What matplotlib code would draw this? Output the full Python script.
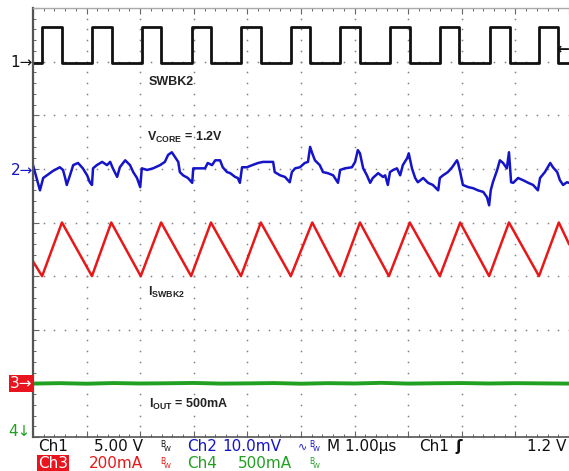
import matplotlib
matplotlib.use("Agg")
import matplotlib.pyplot as plt
import numpy as np

plt.rcParams['mathtext.fontset'] = 'custom'
plt.rcParams['mathtext.rm'] = 'Liberation Sans:bold'
plt.rcParams['mathtext.bf'] = 'Liberation Sans:bold'

W, H = 569, 471
C_BLK = "#111111"; C_BLU = "#1414c8"; C_RED = "#e81818"; C_GRN = "#22a022"

# --- channel settings (div offset of ground, units per div) ---
CH1_OFS, CH1_SCALE = 3.0, 5.0      # V/div
CH2_OFS, CH2_SCALE = 1.0, 10.0     # mV/div
CH3_OFS, CH3_SCALE = -3.0, 200.0   # mA/div
CH4_OFS, CH4_SCALE = -4.0, 500.0   # mA/div

# --- Ch1 SWBK2 switch node (edge times in us, levels in V) ---
sw_rise = [0.17, 1.10, 2.03, 2.97, 3.88, 4.81, 5.73, 6.66, 7.59, 8.53, 9.44]
sw_fall = [0.54, 1.47, 2.39, 3.32, 4.25, 5.17, 6.10, 7.03, 7.95, 8.90, 9.79]
sw_low, sw_high = -0.1, 3.25

# --- Ch2 VCORE ripple (us, mV) ---
vc_t = [0.00, 0.13, 0.19, 0.26, 0.37, 0.50, 0.56, 0.60, 0.63, 0.69, 0.75, 0.84, 0.93,
        1.01, 1.06, 1.10, 1.12, 1.19, 1.29, 1.38, 1.44, 1.49, 1.57, 1.62, 1.72, 1.81,
        1.87, 1.94, 2.00, 2.03, 2.13, 2.24, 2.37, 2.46, 2.52, 2.59, 2.65, 2.71, 2.74,
        2.80, 2.89, 2.97, 2.99, 3.12, 3.21, 3.26, 3.34, 3.40, 3.49, 3.54, 3.62, 3.68,
        3.77, 3.82, 3.86, 3.90, 3.99, 4.09, 4.20, 4.29, 4.42, 4.48, 4.51, 4.61, 4.70,
        4.79, 4.83, 4.89, 4.98, 5.07, 5.13, 5.17, 5.21, 5.26, 5.35, 5.41, 5.50, 5.60,
        5.69, 5.73, 5.82, 5.95, 6.01, 6.06, 6.10, 6.16, 6.23, 6.29, 6.34, 6.44, 6.53,
        6.57, 6.62, 6.66, 6.72, 6.79, 6.85, 6.90, 6.98, 7.01, 7.07, 7.13, 7.18, 7.28,
        7.37, 7.46, 7.56, 7.59, 7.65, 7.74, 7.82, 7.91, 7.93, 7.97, 8.02, 8.12, 8.21,
        8.30, 8.40, 8.47, 8.51, 8.54, 8.58, 8.66, 8.71, 8.77, 8.84, 8.88, 8.92, 8.96,
        9.05, 9.14, 9.24, 9.33, 9.42, 9.46, 9.55, 9.65, 9.70, 9.78, 9.83, 9.89, 9.96, 10.00]
vc_mv = [0.7, -4.0, -1.7, -1.2, -0.4, 0.3, -0.2, -1.7, -3.0, -1.2, 0.7, 1.1, 0.1,
         -1.2, -2.5, -3.0, 0.1, 0.7, 1.3, 0.7, 1.3, 0.1, -1.5, 0.3, 1.6, 0.7,
         -0.6, -1.7, -3.4, 0.1, -0.2, 0.1, 0.7, 1.3, 2.6, 3.1, 2.2, 1.3, -0.6,
         -1.2, -1.7, -2.6, 0.1, 0.1, 0.1, 1.1, 0.7, 1.6, 1.6, 0.3, -0.6, -0.8,
         -1.5, -1.7, -2.6, 0.3, 0.3, 0.7, 1.1, 1.3, 1.3, 1.3, -0.6, -1.2, -1.5,
         -2.5, -0.6, 0.1, 0.3, 1.1, 1.3, 4.1, 2.9, 1.6, 0.7, -0.6, -0.8, -1.2,
         -2.6, -0.2, 0.1, 0.3, 1.3, 3.5, 2.9, 0.1, -1.2, -2.6, -1.7, -0.8, -1.5,
         -1.2, -3.0, -0.6, -0.2, 0.1, -1.2, 0.7, 2.0, 2.9, 0.1, -1.7, -2.5, -1.7,
         -2.6, -3.0, -4.0, -1.7, -1.2, -0.6, 0.3, 1.6, 1.1, -0.6, -3.0, -3.4, -3.6,
         -4.0, -4.3, -5.3, -6.8, -4.0, -2.5, -0.2, 1.6, 1.1, 0.1, 3.1, -2.5, -2.6,
         -1.7, -2.1, -2.6, -3.0, -4.0, -1.7, -0.6, 1.1, 0.3, -0.6, -2.1, -3.0, -2.5, -2.6]

# --- Ch3 inductor current ISWBK2 (us, mA) ---
il_t = [0.00, 0.17, 0.54, 1.10, 1.46, 2.01, 2.39, 2.95, 3.32, 3.88, 4.25, 4.81,
        5.21, 5.73, 6.10, 6.64, 7.03, 7.59, 7.97, 8.51, 8.88, 9.44, 9.81, 10.00]
il_ma = [455, 400, 600, 400, 600, 400, 600, 400, 600, 400, 600, 400,
         600, 400, 600, 400, 600, 400, 600, 400, 600, 400, 600, 520]

# --- Ch4 load current IOUT (us, mA) ---
io_t = [0.0, 0.5, 1.0, 1.5, 2.0, 2.5, 3.0, 3.5, 4.0, 4.5, 5.0, 5.5, 6.0, 6.5,
        7.0, 7.5, 8.0, 8.5, 9.0, 9.5, 10.0]
io_ma = [498, 502, 497, 503, 499, 501, 504, 498, 500, 503, 497, 502, 499, 505,
         498, 501, 503, 499, 502, 500, 498]

fig = plt.figure(figsize=(W / 100, H / 100), dpi=100)
ax = fig.add_axes([33 / W, 34 / H, 536 / W, 429 / H])
ax.set_xlim(0, 10); ax.set_ylim(-4, 4)

# graticule
for k in range(1, 10):
    yy = np.arange(-4, 4.001, 0.2)
    ax.plot(np.full_like(yy, k), yy, ls="none", marker="s", ms=1.1, color="#808080", mew=0)
for j in range(-3, 4):
    xx = np.arange(0, 10.001, 0.2)
    ax.plot(xx, np.full_like(xx, j), ls="none", marker="s", ms=1.1, color="#808080", mew=0)
ax.set_xticks(range(0, 11)); ax.set_yticks(range(-4, 5))
ax.set_xticks(np.arange(0, 10.01, 0.2), minor=True)
ax.set_yticks(np.arange(-4, 4.01, 0.2), minor=True)
ax.tick_params(which="both", direction="in", top=True, right=False, labelbottom=False,
               labelleft=False, color="#666")
ax.tick_params(which="major", length=4, width=0.8)
ax.tick_params(which="minor", length=2.5, width=0.7)
ax.spines["right"].set_visible(False)
ax.spines["left"].set_color("#555"); ax.spines["left"].set_linewidth(1.6)
ax.spines["bottom"].set_color("#555"); ax.spines["bottom"].set_linewidth(1.2)
ax.spines["top"].set_color("#aaa"); ax.spines["top"].set_linewidth(1.0)

# Ch1 square wave from edges
sq_t = [0.0]; sq_v = [sw_low]
for r, f in zip(sw_rise, sw_fall):
    sq_t += [r, r, f, f]; sq_v += [sw_low, sw_high, sw_high, sw_low]
sq_t.append(10.0); sq_v.append(sw_low)
ax.plot(sq_t, CH1_OFS + np.array(sq_v) / CH1_SCALE, color=C_BLK, lw=2.0)

ax.plot(vc_t, CH2_OFS + np.array(vc_mv) / CH2_SCALE, color=C_BLU, lw=1.8)
ax.plot(il_t, CH3_OFS + np.array(il_ma) / CH3_SCALE, color=C_RED, lw=1.8)
ax.plot(io_t, CH4_OFS + np.array(io_ma) / CH4_SCALE, color=C_GRN, lw=2.8)

# trace annotations
lab = dict(color="#222", fontfamily="Liberation Sans", fontweight="bold", fontsize=9, va="baseline")
ax.text(2.15, 2.56, "SWBK2", **lab)
ax.text(2.13, 1.52, r"$\mathrm{V_{CORE}}$ = 1.2V", **lab)
ax.text(2.15, -1.37, r"$\mathrm{I_{SWBK2}}$", **lab)
ax.text(2.16, -3.46, r"$\mathrm{I_{OUT}}$ = 500mA", **lab)

def ptext(x, y, s, **kw):
    kw.setdefault("va", "baseline")
    kw.setdefault("fontfamily", "DejaVu Sans")
    return fig.text(x / W, 1 - y / H, s, **kw)

# channel ground markers
ptext(33, 67, "1→", color=C_BLK, fontsize=11, ha="right")
ptext(33, 175, "2→", color=C_BLU, fontsize=11, ha="right")
ptext(32, 388, "3→", color="white", fontsize=11, ha="right",
      bbox=dict(boxstyle="square,pad=0.05", facecolor="#e8141e", edgecolor="none"))
ptext(31, 436, "4↓", color=C_GRN, fontsize=11, ha="right")
ptext(569, 53, "←", color=C_BLK, fontsize=11, ha="right", fontweight="bold")

# status line
def bw(x, y, c):
    ptext(x, y - 4, "B", color=c, fontsize=5.5)
    ptext(x + 4, y, "W", color=c, fontsize=5)

y1, y2 = 451, 468
fs = 11
ptext(38, y1, "Ch1", color=C_BLK, fontsize=fs)
ptext(94, y1, "5.00 V", color=C_BLK, fontsize=fs)
bw(160, y1, C_BLK)
ptext(187, y1, "Ch2", color=C_BLU, fontsize=fs)
ptext(222, y1, "10.0mV", color=C_BLU, fontsize=fs)
ptext(298, y1 - 2, "∿", color=C_BLU, fontsize=8)
bw(309, y1, C_BLU)
ptext(327, y1, "M 1.00µs", color=C_BLK, fontsize=fs)
ptext(419, y1, "Ch1", color=C_BLK, fontsize=fs)
ptext(455, y1, "ʃ", color=C_BLK, fontsize=fs, fontweight="bold")
ptext(566, y1, "1.2 V", color=C_BLK, fontsize=fs, ha="right")

ptext(38, y2, "Ch3", color="white", fontsize=fs,
      bbox=dict(boxstyle="square,pad=0.08", facecolor="#e8141e", edgecolor="none"))
ptext(89, y2, "200mA", color=C_RED, fontsize=fs)
bw(160, y2, C_RED)
ptext(187, y2, "Ch4", color=C_GRN, fontsize=fs)
ptext(238, y2, "500mA", color=C_GRN, fontsize=fs)
bw(309, y2, C_GRN)

fig.savefig("out.png", dpi=100, facecolor="white")
